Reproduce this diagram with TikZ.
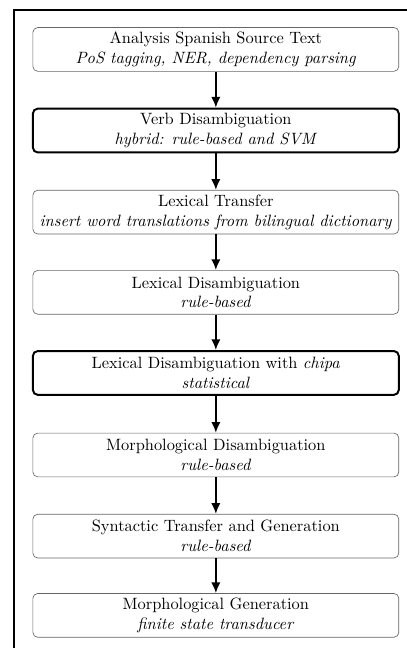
\documentclass[tikz,border=0pt]{standalone}
\usepackage{tikz}
\usetikzlibrary{arrows.meta, positioning}

\begin{document}
\begin{tikzpicture}[
  stage/.style={draw=black!60, rounded corners=3pt, align=center, minimum width=7.85cm,
    minimum height=0.94cm, inner sep=2pt, font=\normalsize},
  keystage/.style={stage, draw=black, line width=1.2pt},
  arr/.style={-{Latex[length=2.3mm, width=2mm]}, line width=1.1pt}
]
  \useasboundingbox (0,0) rectangle (8.71,-13.90);

  %% frame
  \draw[line width=1.5pt] (0.30,-14.1) -- (0.30,-0.21) -- (8.9,-0.21);

  %% Stages of the pipeline
  \node[stage] (analysis) at (4.63,-1.06)
    {Analysis Spanish Source Text\\ \textit{PoS tagging, NER, dependency parsing}};
  \node[keystage] (verbdis) at (4.63,-2.80)
    {Verb Disambiguation\\ \textit{hybrid: rule-based and SVM}};
  \node[stage] (lextrans) at (4.63,-4.55)
    {Lexical Transfer\\ \textit{insert word translations from bilingual dictionary}};
  \node[stage] (lexdis) at (4.63,-6.27)
    {Lexical Disambiguation\\ \textit{rule-based}};
  \node[keystage] (chipa) at (4.63,-8.00)
    {Lexical Disambiguation with \textit{chipa}\\ \textit{statistical}};
  \node[stage] (morphdis) at (4.63,-9.76)
    {Morphological Disambiguation\\ \textit{rule-based}};
  \node[stage] (syntrans) at (4.63,-11.50)
    {Syntactic Transfer and Generation\\ \textit{rule-based}};
  \node[stage] (morphgen) at (4.63,-13.20)
    {Morphological Generation\\ \textit{finite state transducer}};

  %% Arrows
  \draw[arr] (analysis) -- (verbdis);
  \draw[arr] (verbdis) -- (lextrans);
  \draw[arr] (lextrans) -- (lexdis);
  \draw[arr] (lexdis) -- (chipa);
  \draw[arr] (chipa) -- (morphdis);
  \draw[arr] (morphdis) -- (syntrans);
  \draw[arr] (syntrans) -- (morphgen);

\end{tikzpicture}
\end{document}
